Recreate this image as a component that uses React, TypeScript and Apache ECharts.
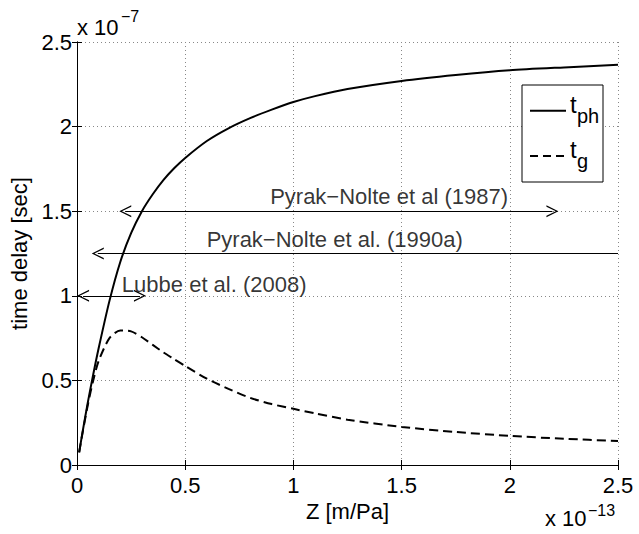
import React, { useEffect, useRef } from 'react';
import * as echarts from 'echarts';

// Z in units of 1e-13 m/Pa, delays in units of 1e-7 s
const zValues = [0.01, 0.025, 0.05, 0.075, 0.1, 0.15, 0.2, 0.25, 0.3, 0.35, 0.4, 0.45, 0.5, 0.6, 0.7, 0.8, 0.9, 1.0, 1.1, 1.25, 1.5, 1.75, 2.0, 2.25, 2.5];
const tPhase = [0.075, 0.19, 0.37, 0.535, 0.69, 0.97, 1.2, 1.37, 1.5, 1.6, 1.685, 1.755, 1.815, 1.915, 1.99, 2.05, 2.1, 2.145, 2.18, 2.222, 2.27, 2.305, 2.333, 2.35, 2.365];
const tGroup = [0.075, 0.185, 0.355, 0.5, 0.615, 0.75, 0.795, 0.79, 0.755, 0.71, 0.665, 0.625, 0.585, 0.51, 0.45, 0.397, 0.36, 0.332, 0.305, 0.268, 0.225, 0.195, 0.172, 0.155, 0.142];

const axisMin = 0;
const axisMax = 2.5;
const axisStep = 0.5;

const seriesNames = ['tph', 'tg'];
const legendMain = ['t', 't'];
const legendSub = ['ph', 'g'];

const noteTexts = ['Pyrak\u2212Nolte et al (1987)', 'Pyrak\u2212Nolte et al. (1990a)', 'Lubbe et al. (2008)'];
const noteX = [1.442, 1.191, 0.634];
const noteY = [1.587, 1.33, 1.064];

// arrows: [fromZ, toZ, level] (symbol centres), head at end only where flagged
const arrowFrom = [0.223, 0.096, 0.028];
const arrowTo = [2.197, 2.5, 0.291];
const arrowLevel = [1.5, 1.25, 1.0];
const arrowEndHead = [true, false, true];

const FONT = 'Liberation Sans, Arial, Helvetica, sans-serif';
const ARROW = 'path://M50,0 L100,100 L88,100 L50,22 L12,100 L0,100 Z';

export default function App() {
  const ref = useRef<HTMLDivElement>(null);
  useEffect(() => {
    if (!ref.current) return;
    const chart = echarts.init(ref.current, undefined, { renderer: 'svg' });
    const axisCommon = {
      type: 'value' as const,
      min: axisMin,
      max: axisMax,
      interval: axisStep,
      axisLine: { show: true, lineStyle: { color: '#000', width: 1 } },
      axisTick: { show: true, inside: true, length: 5, lineStyle: { color: '#000' } },
    };
    const legendX = 522, legendY = 85, legendW = 81, legendH = 97;
    const rowY = [110.7, 156];
    const legendGraphic: any[] = [
      { type: 'rect', shape: { x: legendX, y: legendY, width: legendW, height: legendH }, style: { fill: '#fff', stroke: '#000', lineWidth: 1 }, z: 100 },
    ];
    seriesNames.forEach((_, i) => {
      legendGraphic.push({
        type: 'line', z: 101,
        shape: { x1: 530, y1: rowY[i], x2: 566, y2: rowY[i] },
        style: { stroke: '#000', lineWidth: 2, lineDash: i === 0 ? null : [8, 5] },
      });
      legendGraphic.push({
        type: 'text', z: 101,
        style: { text: legendMain[i], x: 570, y: rowY[i] + 1.6 - 8.3, fontSize: 24, fontFamily: FONT, fill: '#000', align: 'left', verticalAlign: 'middle' },
      });
      legendGraphic.push({
        type: 'text', z: 101,
        style: { text: legendSub[i], x: 577, y: rowY[i] + 12 - 6.9, fontSize: 20, fontFamily: FONT, fill: '#000', align: 'left', verticalAlign: 'middle' },
      });
    });
    const option = {
      animation: false,
      textStyle: { fontFamily: FONT },
      grid: { left: 77, right: 21, top: 42, bottom: 69, containLabel: false },
      xAxis: [
        {
          ...axisCommon,
          position: 'bottom',
          name: 'Z [m/Pa]',
          nameLocation: 'middle',
          nameGap: 29,
          nameTextStyle: { fontSize: 22, color: '#000', fontFamily: FONT },
          axisLabel: { fontSize: 22, color: '#000', margin: 9, fontFamily: FONT },
          splitLine: { show: true, lineStyle: { color: '#888', type: [1, 3], width: 1 } },
        },
        {
          ...axisCommon,
          position: 'top',
          axisLabel: { show: false },
          splitLine: { show: false },
        },
      ],
      yAxis: [
        {
          ...axisCommon,
          position: 'left',
          name: 'time delay [sec]',
          nameLocation: 'middle',
          nameGap: 44,
          nameTextStyle: { fontSize: 22, color: '#000', fontFamily: FONT },
          axisLabel: { fontSize: 22, color: '#000', margin: 5, fontFamily: FONT },
          splitLine: { show: true, lineStyle: { color: '#888', type: [1, 3], width: 1 } },
        },
        {
          ...axisCommon,
          position: 'right',
          axisLabel: { show: false },
          splitLine: { show: false },
        },
      ],
      series: [
        {
          name: seriesNames[0],
          type: 'line',
          data: zValues.map((z, i) => [z, tPhase[i]]),
          symbol: 'none',
          smooth: 0.25,
          lineStyle: { color: '#000', width: 2, type: 'solid' },
          itemStyle: { color: '#000' },
        },
        {
          name: seriesNames[1],
          type: 'line',
          data: zValues.map((z, i) => [z, tGroup[i]]),
          symbol: 'none',
          smooth: 0.25,
          lineStyle: { color: '#000', width: 2, type: [9, 5] },
          itemStyle: { color: '#000' },
        },
        {
          name: 'notes',
          type: 'scatter',
          silent: true,
          symbolSize: 1,
          itemStyle: { color: 'rgba(0,0,0,0)' },
          label: {
            show: true,
            position: 'inside',
            formatter: '{b}',
            fontSize: 22,
            color: '#000',
            fontFamily: FONT,
          },
          data: noteTexts.map((t, i) => ({ name: t, value: [noteX[i], noteY[i]] })),
          markLine: {
            silent: true,
            symbol: [ARROW, ARROW],
            symbolSize: 12,
            label: { show: false },
            lineStyle: { color: '#000', width: 1.2, type: 'solid' },
            emphasis: { disabled: true },
            data: arrowFrom.map((f, i) => [
              { coord: [f, arrowLevel[i]], symbol: ARROW },
              { coord: [arrowTo[i], arrowLevel[i]], symbol: arrowEndHead[i] ? ARROW : 'none' },
            ]),
          },
        },
      ],
      graphic: [
        { type: 'text', style: { text: 'x 10', x: 77, y: 27.5, fontSize: 22, fontFamily: FONT, fill: '#000', align: 'left', verticalAlign: 'middle' } },
        { type: 'text', style: { text: '\u22127', x: 121, y: 16.5, fontSize: 16, fontFamily: FONT, fill: '#000', align: 'left', verticalAlign: 'middle' } },
        { type: 'text', style: { text: 'x 10', x: 545, y: 518.5, fontSize: 22, fontFamily: FONT, fill: '#000', align: 'left', verticalAlign: 'middle' } },
        { type: 'text', style: { text: '\u221213', x: 588, y: 510, fontSize: 16, fontFamily: FONT, fill: '#000', align: 'left', verticalAlign: 'middle' } },
        ...legendGraphic,
      ],
    };
    chart.setOption(option as any);
    return () => chart.dispose();
  }, []);
  return <div ref={ref} style={{ position: 'fixed', left: 0, top: 0, width: 639, height: 534, background: '#fff' }} />;
}
